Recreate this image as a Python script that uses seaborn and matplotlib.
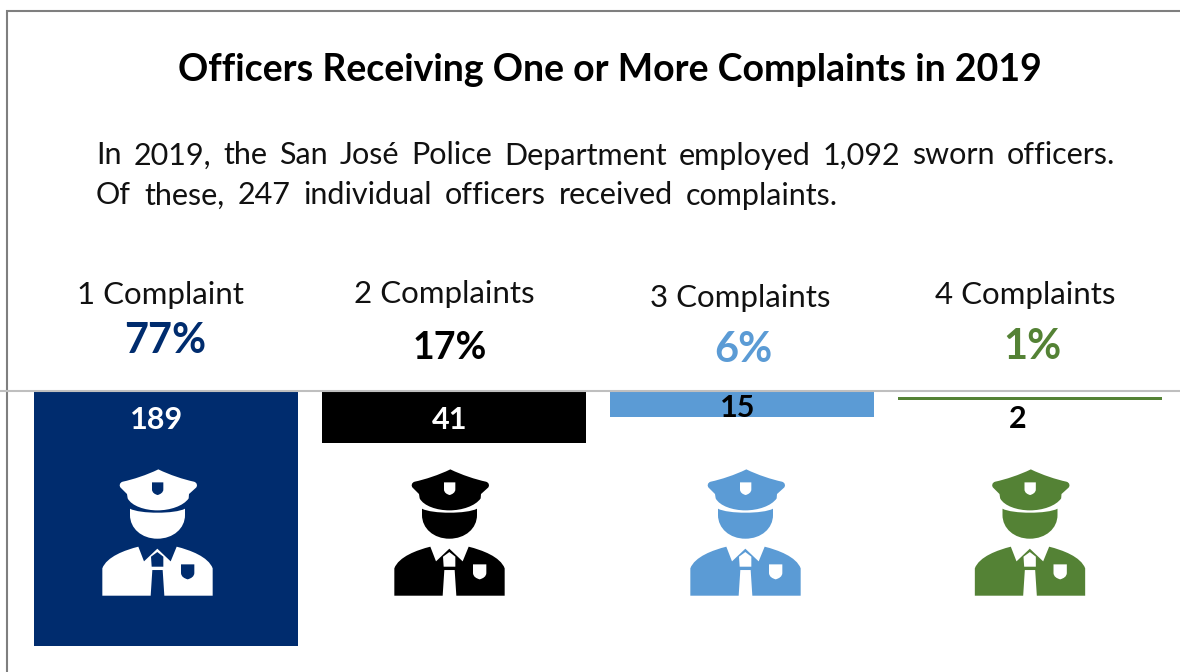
import matplotlib
matplotlib.use("Agg")
import matplotlib.pyplot as plt
import seaborn as sns
import pandas as pd
from matplotlib.path import Path
from matplotlib.patches import PathPatch
from matplotlib.transforms import Affine2D

# ---- data ----
categories = ["1 Complaint", "2 Complaints", "3 Complaints", "4 Complaints"]
percents = ["77%", "17%", "6%", "1%"]
count_labels = ["189", "41", "15", "2"]
bar_lengths = [189, 38.7, 18.6, 2.6]   # drawn length of each bar, as it appears
bar_starts = [0, 0, 0.8, 4.4]          # small gap under the baseline, as it appears
colors = ["#002C6E", "#000000", "#5B9BD5", "#548235"]
count_colors = ["white", "white", "black", "black"]
title = "Officers Receiving One or More Complaints in 2019"
body_lines = ["In 2019, the San José Police Department employed 1,092 sworn officers.",
              "Of these, 247 individual officers received complaints."]

# ---- layout in reference pixels ----
W, H = 1180, 672
cat_xy = [(160, 295), (444, 294), (740, 298), (1025, 295)]
pct_xy = [(165, 341), (450, 348), (743, 350), (1032, 347)]
pct_sizes = [30, 27, 30, 30]
count_xy = [(157, 420), (450, 420), (738, 408), (1018, 419)]
icon_x = [157.5, 449.5, 745.5, 1030]
icon_y = 532.7

sns.set_theme(style="white")
plt.rcParams["font.family"] = ["Lato", "DejaVu Sans"]

fig = plt.figure(figsize=(W / 100, H / 100), dpi=100, facecolor="white")

# bars hang from the baseline: axes spans the figure width, 391..645 px high
ax = fig.add_axes([0, (H - 645.5) / H, 1, (645.5 - 391) / H])
df = pd.DataFrame({"cat": categories, "len": bar_lengths})
sns.barplot(data=df, x="cat", y="len", hue="cat", order=categories, hue_order=categories,
            palette=colors, width=264 / 288, saturation=1, legend=False, linewidth=0, ax=ax)
for patch, start, length in zip(ax.patches, bar_starts, bar_lengths):
    patch.set_y(start)
    patch.set_height(length)
ax.set_xlim(-165.7 / 288, (W - 165.7) / 288)
ax.set_ylim(189, 0)
ax.axis("off")

# overlay in pixel coordinates for text, frame and pictograms
ov = fig.add_axes([0, 0, 1, 1], facecolor="none")
ov.set_xlim(0, W)
ov.set_ylim(H, 0)
ov.axis("off")

ov.plot([7, 7, W], [H, 11, 11], color="#7F7F7F", lw=1.5, solid_joinstyle="miter")
ov.plot([0, W], [391, 391], color="#BFBFBF", lw=1.5)

# pictogram outline, units: 1/3 px around the icon centre
CX, CY = 472.5, 458
M, L, C, Z = Path.MOVETO, Path.LINETO, Path.CURVE4, Path.CLOSEPOLY
shape = [
    # cap
    (M, [(475, 268)]), (C, [(510, 285), (550, 298), (582, 305)]), (C, [(592, 308), (593, 318), (588, 323)]),
    (L, [(567, 342)]), (L, [(566, 355)]), (C, [(550, 378), (510, 391), (472, 391)]),
    (C, [(435, 391), (395, 378), (383, 355)]), (L, [(381, 342)]), (L, [(362, 323)]),
    (C, [(357, 318), (358, 308), (368, 305)]), (C, [(400, 298), (440, 285), (475, 268)]), (Z, [(475, 268)]),
    # cap badge (hole)
    (M, [(456, 307)]), (L, [(456, 328)]), (C, [(456, 338), (465, 343), (473, 345)]),
    (C, [(480, 343), (490, 338), (490, 328)]), (L, [(490, 307)]), (Z, [(456, 307)]),
    # face
    (M, [(390, 386)]), (C, [(420, 402), (525, 402), (555, 386)]), (L, [(555, 405)]),
    (C, [(555, 445), (520, 476), (472, 476)]), (C, [(425, 476), (390, 445), (390, 405)]), (Z, [(390, 386)]),
    # torso
    (M, [(415, 500)]), (L, [(432, 544)]), (L, [(472, 506)]), (L, [(512, 544)]), (L, [(530, 500)]),
    (C, [(570, 510), (625, 530), (638, 565)]), (L, [(638, 647)]), (L, [(493, 647)]), (L, [(488, 570)]),
    (L, [(457, 570)]), (L, [(452, 647)]), (L, [(307, 647)]), (L, [(307, 565)]),
    (C, [(320, 530), (375, 510), (415, 500)]), (Z, [(415, 500)]),
    # tie knot (hole)
    (M, [(472, 516)]), (L, [(453, 530)]), (L, [(455, 560)]), (L, [(490, 560)]), (L, [(490, 530)]), (Z, [(472, 516)]),
    # chest badge (hole)
    (M, [(543, 553)]), (L, [(543, 578)]), (C, [(543, 590), (553, 595), (563, 598)]),
    (C, [(573, 595), (583, 590), (583, 578)]), (L, [(583, 553)]), (Z, [(543, 553)]),
]
verts, codes = [], []
for code, pts in shape:
    for p in pts:
        verts.append((p[0] - CX, p[1] - CY))
        codes.append(code)
icon = Path(verts, codes)

icon_colors = ["white", "#000000", "#5B9BD5", "#548235"]
for x, col in zip(icon_x, icon_colors):
    ov.add_patch(PathPatch(icon, facecolor=col, edgecolor="none",
                           transform=Affine2D().scale(1 / 3).translate(x, icon_y) + ov.transData))

# texts
ov.text(610, 70, title, ha="center", va="center", fontsize=27, fontweight="bold", color="black")

def justify(line, x0, x1, y, size):
    """Set one line word by word so that it spans x0..x1."""
    r = fig.canvas.get_renderer()
    words = line.split(" ")
    arts = [ov.text(0, y, w, ha="left", va="center_baseline", fontsize=size, color="#111111") for w in words]
    widths = [a.get_window_extent(r).width for a in arts]
    gap = (x1 - x0 - sum(widths)) / (len(words) - 1)
    x = x0
    for a, wd in zip(arts, widths):
        a.set_x(x)
        x += wd + gap

justify(body_lines[0], 96, 1115, 153, 22)
justify(body_lines[1], 96, 838, 193, 22)

for cat, (x, y) in zip(categories, cat_xy):
    ov.text(x, y, cat, ha="center", va="center", fontsize=22.5, color="#111111")
for pct, (x, y), col, s in zip(percents, pct_xy, colors, pct_sizes):
    ov.text(x, y, pct, ha="center", va="center", fontsize=s, fontweight="bold", color=col)
for lab, (x, y), col in zip(count_labels, count_xy, count_colors):
    ov.text(x, y, lab, ha="center", va="center", fontsize=22, fontweight="bold", color=col)

fig.savefig("out.png", dpi=100)
